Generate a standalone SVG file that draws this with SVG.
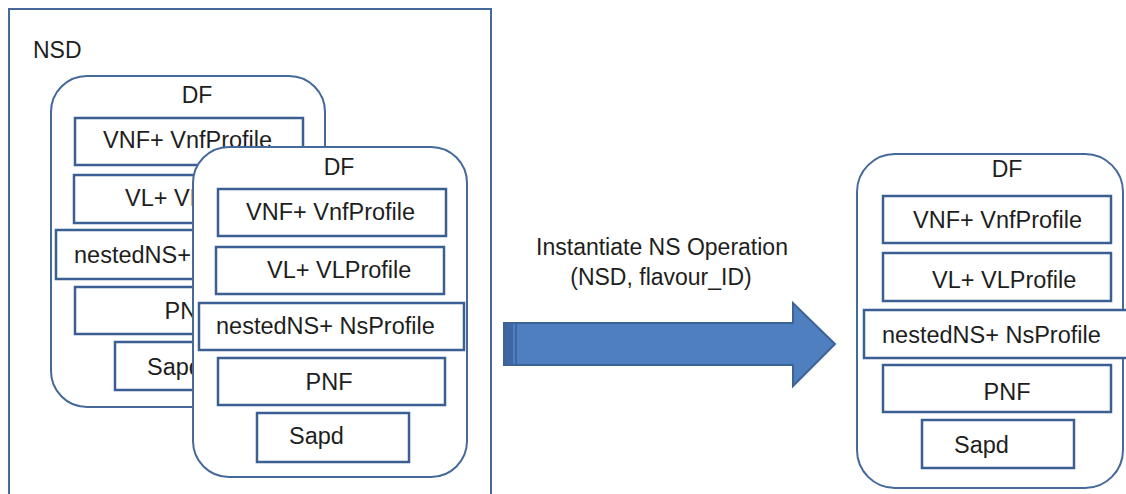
<svg xmlns="http://www.w3.org/2000/svg" width="1126" height="494" viewBox="0 0 1126 494">
<style>
.frame{fill:#fff;stroke:#45699b;stroke-width:2}
.df{fill:#fff;stroke:#45699b;stroke-width:2}
.box{fill:#fff;stroke:#3b5f92;stroke-width:2.5}
text{font-family:"Liberation Sans",Arial,sans-serif;fill:#1e1e1e}
.t{font-size:23.5px}
.h{font-size:23px}
.c{text-anchor:middle}
</style>
<rect width="1126" height="494" fill="#fff"/>
<g id="nsd">
<rect class="frame" x="9" y="9" width="482" height="500"/>
<text class="h" x="33" y="58">NSD</text>
</g>
<g id="df-back">
<rect class="df" x="51" y="76" width="274" height="331" rx="36" ry="36"/>
<text class="h c" x="197" y="103">DF</text>
<rect class="box" x="75" y="118" width="228" height="47"/>
<text class="t" x="103" y="148">VNF+ VnfProfile</text>
<rect class="box" x="74" y="175" width="228" height="48"/>
<text class="t" x="125" y="206">VL+ VLProfile</text>
<rect class="box" x="56" y="230" width="265" height="49"/>
<text class="t" x="74" y="263">nestedNS+ NsProfile</text>
<rect class="box" x="75" y="287" width="228" height="47"/>
<text class="t c" x="188" y="319">PNF</text>
<rect class="box" x="115" y="342" width="152" height="48"/>
<text class="t" x="147" y="375">Sapd</text>
</g>
<g id="df-front">
<rect class="df" x="193" y="147" width="274" height="330" rx="36" ry="36"/>
<text class="h c" x="339" y="175">DF</text>
<rect class="box" x="218" y="189" width="228" height="47"/>
<text class="t" x="246" y="220">VNF+ VnfProfile</text>
<rect class="box" x="216" y="247" width="228" height="47"/>
<text class="t" x="267" y="278">VL+ VLProfile</text>
<rect class="box" x="199" y="303" width="265" height="47"/>
<text class="t" x="216" y="334">nestedNS+ NsProfile</text>
<rect class="box" x="218" y="358" width="227" height="47"/>
<text class="t c" x="329" y="390">PNF</text>
<rect class="box" x="257" y="413" width="152" height="49"/>
<text class="t" x="289" y="444">Sapd</text>
</g>
<g id="connectors">
<path d="M504,323 H793 V303 L835,344 L793,386 V365 H504 Z" fill="#4f7fbe" stroke="#3c6396" stroke-width="2"/>
<rect x="505" y="324" width="12" height="40" fill="#3d68a3"/>
<line x1="514" y1="324" x2="514" y2="364" stroke="#5a88c4" stroke-width="1.5"/>
<text class="h c" x="662" y="255">Instantiate NS Operation</text>
<text class="h c" x="661" y="285">(NSD, flavour_ID)</text>
</g>
<g id="df-result">
<rect class="df" x="857" y="154" width="266" height="334" rx="38" ry="38"/>
<text class="h c" x="1007" y="177">DF</text>
<rect class="box" x="883" y="196" width="228" height="47"/>
<text class="t" x="913" y="228">VNF+ VnfProfile</text>
<rect class="box" x="883" y="253" width="228" height="48"/>
<text class="t" x="932" y="288">VL+ VLProfile</text>
<rect class="box" x="864" y="310" width="265" height="48"/>
<text class="t" x="882" y="343">nestedNS+ NsProfile</text>
<rect class="box" x="883" y="365" width="228" height="47"/>
<text class="t c" x="1007" y="400">PNF</text>
<rect class="box" x="922" y="420" width="152" height="48"/>
<text class="t" x="954" y="453">Sapd</text>
</g>
</svg>
